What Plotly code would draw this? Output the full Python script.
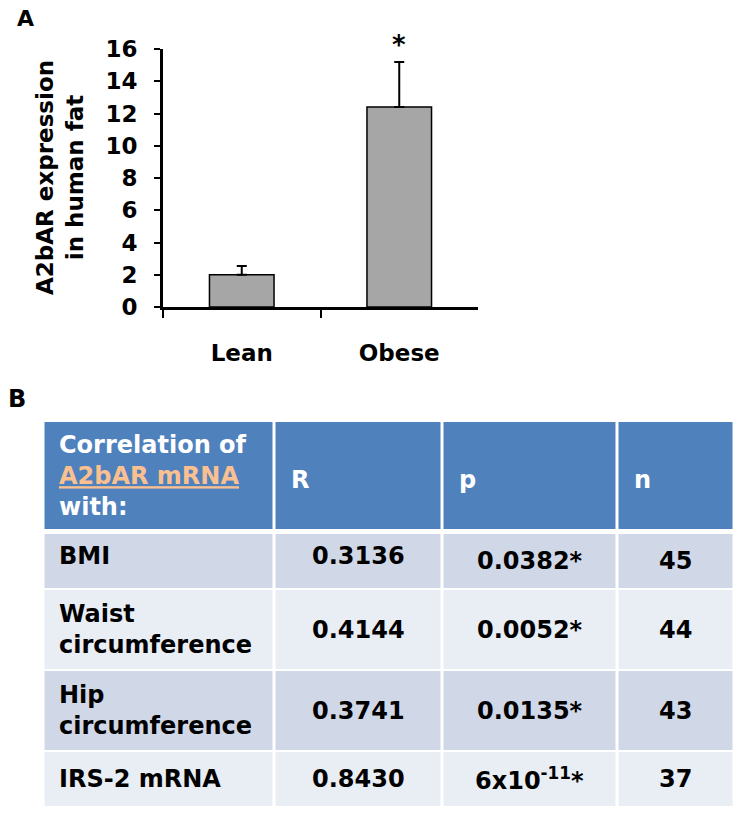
import plotly.graph_objects as go

# ---------------- data ----------------
groups = ["Lean", "Obese"]
expression = [2.0, 12.4]
expression_err = [0.55, 2.8]
significance = ["", "*"]
y_ticks = [0, 2, 4, 6, 8, 10, 12, 14, 16]
y_title = ["A2bAR expression", "in human fat"]

header_lines = ["Correlation of", "A2bAR mRNA", "with:"]
header_cols = ["R", "p", "n"]
measures = ["BMI", "Waist<br>circumference", "Hip<br>circumference", "IRS-2 mRNA"]
r_values = ["0.3136", "0.4144", "0.3741", "0.8430"]
p_values = ["0.0382*", "0.0052*", "0.0135*", "6x10<sup>-11</sup>*"]
n_values = [45, 44, 43, 37]

# ---------------- style ----------------
W, H = 744, 814
FONT = "DejaVu Sans"
BAR_COLOR = "#A6A6A6"
HEAD_FILL = "#4F81BD"
ROW_FILLS = ["#D0D8E8", "#E9EDF4"]
PEACH = "#FAC090"

def px(x):
    return x / W

def py(y):
    return 1 - y / H

fig = go.Figure()

fig.add_trace(go.Bar(
    x=groups, y=expression,
    marker=dict(color=BAR_COLOR, line=dict(color="black", width=1.5)),
    error_y=dict(type="data", symmetric=False, array=expression_err,
                 arrayminus=[0] * len(expression_err),
                 color="black", thickness=2, width=5),
    showlegend=False, hoverinfo="skip",
))

annotations = []
# significance star
for g, v, e, s in zip(groups, expression, expression_err, significance):
    if s:
        annotations.append(dict(x=g, y=v + e, xref="x", yref="y", text=s,
                                showarrow=False, yanchor="bottom", yshift=0,
                                font=dict(family=FONT, size=26, color="black",
                                          weight="bold")))

# y title
annotations.append(dict(x=px(60), y=py(178), xref="paper", yref="paper",
                        text="<br>".join(y_title), textangle=-90, showarrow=False,
                        xanchor="center", yanchor="middle",
                        font=dict(family=FONT, size=23, color="black", weight="bold")))

# panel letters
annotations.append(dict(x=px(26), y=py(19), xref="paper", yref="paper", text="A",
                        showarrow=False, xanchor="center", yanchor="middle",
                        font=dict(family=FONT, size=22, color="black", weight="bold")))
annotations.append(dict(x=px(17), y=py(399), xref="paper", yref="paper", text="B",
                        showarrow=False, xanchor="center", yanchor="middle",
                        font=dict(family=FONT, size=24, color="black", weight="bold")))

# ---------------- table ----------------
col_edges = [43, 274, 442, 617, 734]
head_edges = (422, 529)
row_edges = [(534, 588), (590, 669), (671, 750), (752, 806)]
row_text_shift = [-5, 0, 0, 0]
GAP = 1.5
TFS = 24

shapes = []
def cell(x0, x1, y0, y1, fill):
    shapes.append(dict(type="rect", xref="paper", yref="paper",
                       x0=px(x0 + GAP), x1=px(x1 - GAP), y0=py(y1), y1=py(y0),
                       fillcolor=fill, line=dict(width=0), layer="below"))

for c in range(4):
    cell(col_edges[c], col_edges[c + 1], head_edges[0], head_edges[1], HEAD_FILL)
for r, (y0, y1) in enumerate(row_edges):
    for c in range(4):
        cell(col_edges[c], col_edges[c + 1], y0, y1, ROW_FILLS[r % 2])

head_text = "<br>".join([
    header_lines[0],
    f"<span style='color:{PEACH}'><u>{header_lines[1]}</u></span>",
    header_lines[2],
])
hy = (head_edges[0] + head_edges[1]) / 2
annotations.append(dict(x=px(col_edges[0] + 14), y=py(hy), xref="paper", yref="paper",
                        text=head_text, showarrow=False, xanchor="left", yanchor="middle",
                        align="left",
                        font=dict(family=FONT, size=TFS, color="white", weight="bold")))
for c, t in enumerate(header_cols):
    annotations.append(dict(x=px(col_edges[c + 1] + 15), y=py(hy + 5), xref="paper",
                            yref="paper", text=t, showarrow=False, xanchor="left",
                            yanchor="middle",
                            font=dict(family=FONT, size=TFS, color="white", weight="bold")))

for r, (y0, y1) in enumerate(row_edges):
    cy = (y0 + y1) / 2
    annotations.append(dict(x=px(col_edges[0] + 14), y=py(cy + row_text_shift[r]),
                            xref="paper", yref="paper", text=measures[r], showarrow=False,
                            xanchor="left", yanchor="middle", align="left",
                            font=dict(family=FONT, size=TFS, color="black", weight="bold")))
    vals = [r_values[r], p_values[r], str(n_values[r])]
    for c, v in enumerate(vals):
        shift = row_text_shift[r] if c == 0 else 0
        annotations.append(dict(x=px((col_edges[c + 1] + col_edges[c + 2]) / 2),
                                y=py(cy + shift), xref="paper", yref="paper", text=v,
                                showarrow=False, xanchor="center", yanchor="middle",
                                font=dict(family=FONT, size=TFS, color="black",
                                          weight="bold")))

fig.update_layout(
    template="none",
    width=W, height=H,
    margin=dict(l=0, r=0, t=0, b=0),
    paper_bgcolor="white", plot_bgcolor="white",
    bargap=0.59,
    font=dict(family=FONT, color="black"),
    xaxis=dict(domain=[px(163), px(478)], type="category", tickson="boundaries",
               ticks="outside", ticklen=8, tickwidth=2, tickcolor="black",
               showline=True, linewidth=3, linecolor="black", showgrid=False,
               zeroline=False, automargin=False, ticklabelstandoff=23,
               tickfont=dict(family=FONT, size=23, color="black", weight="bold")),
    yaxis=dict(domain=[py(307), py(49)], range=[0, 16], tickvals=y_ticks,
               ticks="outside", ticklen=6, tickwidth=2, tickcolor="black",
               showline=True, linewidth=3, linecolor="black", showgrid=False,
               zeroline=False, automargin=False, ticklabelstandoff=12,
               tickfont=dict(family=FONT, size=23, color="black", weight="bold")),
    annotations=annotations,
    shapes=shapes,
)

fig.write_html("out.html", config={"displayModeBar": False},
               post_script="document.body.style.margin='0';")
